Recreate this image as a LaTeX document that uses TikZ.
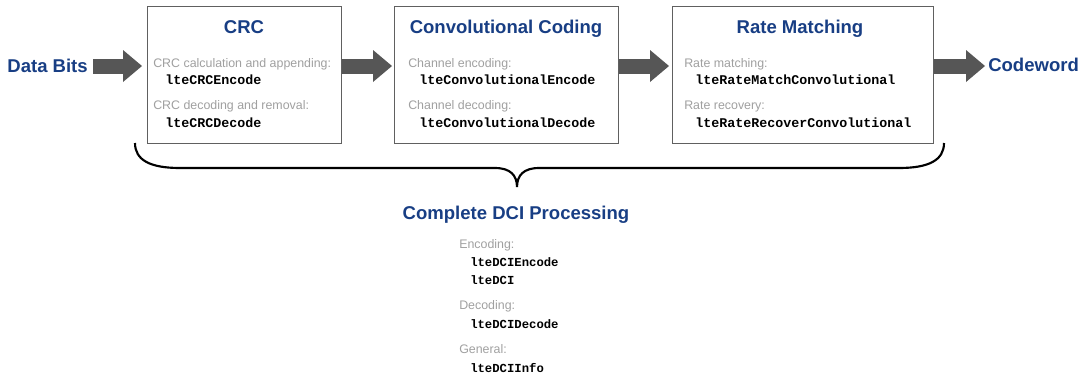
\documentclass[tikz,border=0pt]{standalone}
\usepackage{fontspec}
\setmainfont{Liberation Sans}
\newfontfamily\codefont{Liberation Mono}
\usepackage{tikz}
\usetikzlibrary{arrows.meta,positioning}
\definecolor{dciblue}{RGB}{24,62,132}
\definecolor{hintgray}{RGB}{160,160,160}
\definecolor{flowgray}{RGB}{86,86,86}
\definecolor{boxgray}{RGB}{96,96,96}

\begin{document}
\begin{tikzpicture}[
    x=0.75pt, y=-0.75pt,
    stagebox/.style={draw=boxgray, line width=0.9pt, fill=white, minimum height=102.75pt, inner sep=0pt, anchor=north west},
    stagetitle/.style={font=\fontsize{13.9}{16}\selectfont\bfseries, text=dciblue, anchor=base, inner sep=0pt},
    endlabel/.style={font=\fontsize{13.9}{16}\selectfont\bfseries, text=dciblue, inner sep=0pt},
    hint/.style={font=\fontsize{9.3}{11}\selectfont, text=hintgray, anchor=base west, inner sep=0pt},
    fname/.style={font=\codefont\bfseries\fontsize{10}{12}\selectfont, anchor=base west, inner sep=0pt},
    fnamesmall/.style={font=\codefont\bfseries\fontsize{9.2}{11}\selectfont, anchor=base west, inner sep=0pt},
    flow/.style={draw=flowgray, line width=11.25pt, -{Triangle[length=14.25pt, width=24pt, line width=0pt]}},
]
\useasboundingbox (0,0) rectangle (1081,376);

% Stage boxes
\node[stagebox, minimum width=145.5pt] (crc) at (147,6) {};
\node[stagebox, minimum width=168pt] (conv) at (394,6) {};
\node[stagebox, minimum width=195.75pt] (rate) at (672,6) {};

% Input and output
\node[endlabel, anchor=east] (databits) at (88,66) {Data Bits};
\node[endlabel, anchor=west] (codeword) at (988,65) {Codeword};

% Flow arrows
\draw[flow, shorten <=3.75pt, shorten >=3.75pt] (databits.east) -- (crc.west |- databits.east);
\draw[flow, shorten >=1.5pt] (crc.east |- databits.east) -- (conv.west |- databits.east);
\draw[flow, shorten >=2.25pt] (conv.east |- databits.east) -- (rate.west |- databits.east);
\draw[flow, shorten >=2.25pt] (rate.east |- databits.east) -- (codeword.west |- databits.east);

% CRC
\node[stagetitle] (crctitle) at (244,33) {CRC};
\node[hint] (crcenchint) at (153,67) {CRC calculation and appending:};
\node[fname] (crcenc) at (165,84.5) {lteCRCEncode};
\node[hint] (crcdechint) at (153,109) {CRC decoding and removal:};
\node[fname] (crcdec) at (165,127) {lteCRCDecode};

% Convolutional coding
\node[stagetitle] (convtitle) at (506,33) {Convolutional Coding};
\node[hint] (convenchint) at (408,67) {Channel encoding:};
\node[fname] (convenc) at (419,84.5) {lteConvolutionalEncode};
\node[hint] (convdechint) at (408,109) {Channel decoding:};
\node[fname] (convdec) at (419,127) {lteConvolutionalDecode};

% Rate matching
\node[stagetitle] (ratetitle) at (800,33) {Rate Matching};
\node[hint] (ratemhint) at (684,67) {Rate matching:};
\node[fname] (ratem) at (695,84.5) {lteRateMatchConvolutional};
\node[hint] (raterhint) at (684,109) {Rate recovery:};
\node[fname] (rater) at (695,127) {lteRateRecoverConvolutional};

% Brace under the three stages
\coordinate (braceL) at (135,143);
\coordinate (braceTip) at (517,187);
\coordinate (braceR) at (944,143);
\draw[line width=1.6pt] (braceL) .. controls (135,160) and (150,168) .. (180,168) -- (495,168)
    .. controls (510,168) and (517,175) .. (braceTip)
    .. controls (517,175) and (524,168) .. (539,168) -- (899,168)
    .. controls (929,168) and (944,160) .. (braceR);

% Complete DCI processing
\node[stagetitle] (dcititle) at (516,219) {Complete DCI Processing};
\node[hint] (dcienchint) at (459,248) {Encoding:};
\node[fnamesmall] (dcienc) at (470,266) {lteDCIEncode};
\node[fnamesmall] (dci) at (470,284) {lteDCI};
\node[hint] (dcidechint) at (459,309) {Decoding:};
\node[fnamesmall] (dcidec) at (470,328) {lteDCIDecode};
\node[hint] (dcigenhint) at (459,353) {General:};
\node[fnamesmall] (dciinfo) at (470,372) {lteDCIInfo};
\end{tikzpicture}
\end{document}
